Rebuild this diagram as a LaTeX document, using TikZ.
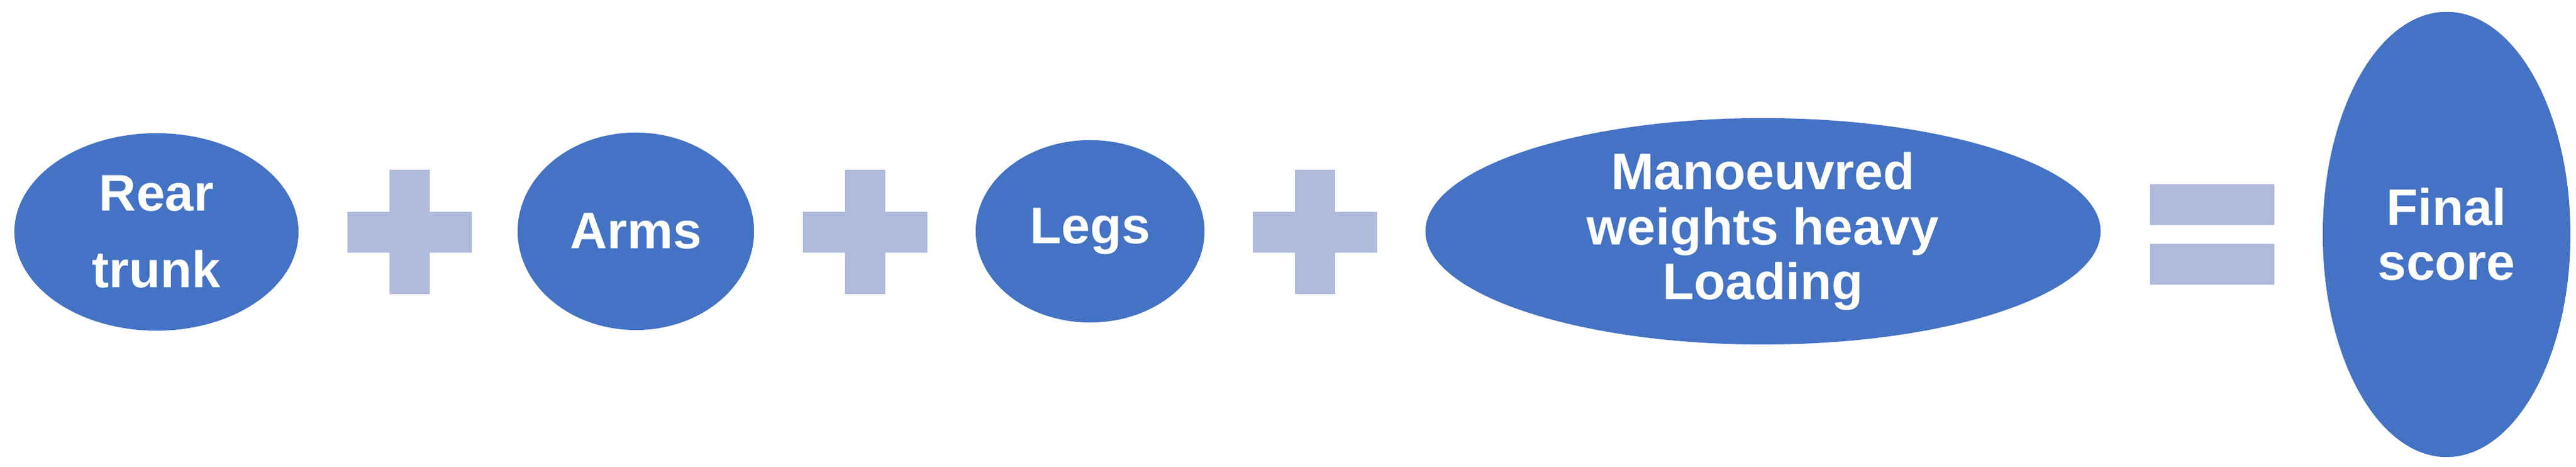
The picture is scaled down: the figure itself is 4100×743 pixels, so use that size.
\documentclass[tikz,border=0pt]{standalone}
\usepackage{fontspec}
\setmainfont{Liberation Sans}
\usetikzlibrary{shapes.geometric}
\definecolor{ovalblue}{HTML}{4472C4}
\definecolor{signblue}{HTML}{AFBBDD}

\begin{document}
\begin{tikzpicture}[x = 0.01cm, y = -0.01cm,
		oval/.style = {ellipse, fill = ovalblue, inner sep = 0pt, text = white, align = center,
			font = \fontsize{23.3pt}{24.8pt}\selectfont\bfseries}]
		\useasboundingbox (0,0) rectangle (4100,743);
		
		\node [oval, minimum width = 4.52cm, minimum height = 3.14cm] (trunk) at (249,369) {Rear\\[0.35cm]trunk};
		\node [oval, minimum width = 3.76cm, minimum height = 3.14cm] (arms) at (1012,368) {Arms};
		\node [oval, minimum width = 3.64cm, minimum height = 2.90cm] (legs) at (1735,368) {Legs};
		\node [oval, minimum width = 10.74cm, minimum height = 3.60cm] (heavy) at (2806,368) {Manoeuvred\\weights heavy\\Loading};
		\node [oval, minimum width = 3.94cm, minimum height = 7.08cm] (score) at (3894,373) {Final\\score};
		
		\begin{scope}[signblue]
			\foreach \x [count = \i] in {652,1377,2093} {
				\coordinate (plus\i) at (\x,369);
				\fill (plus\i) ++(-99,-32) rectangle ++(198,65);
				\fill (plus\i) ++(-32,-99) rectangle ++(64,198);
			}
			\coordinate (equals) at (3521,373);
			\fill (equals) ++(-99,-80) rectangle ++(198,65);
			\fill (equals) ++(-99,15) rectangle ++(198,65);
		\end{scope}
	\end{tikzpicture}
\end{document}
